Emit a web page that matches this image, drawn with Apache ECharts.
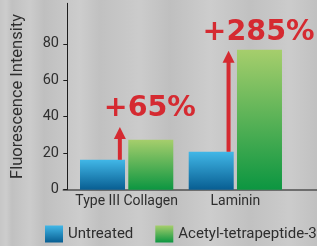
<!DOCTYPE html>
<html>
<head>
<meta charset="utf-8">
<script src="https://cdn.jsdelivr.net/npm/echarts@6/dist/echarts.min.js"></script>
<style>
  html, body { margin: 0; padding: 0; }
  body {
    width: 317px; height: 246px; overflow: hidden;
    background:
      linear-gradient(90deg,
        rgba(255,255,255,0) 0px, rgba(255,255,255,0.10) 6px, rgba(0,0,0,0.03) 12px,
        rgba(255,255,255,0.08) 30px, rgba(0,0,0,0.04) 44px, rgba(255,255,255,0.10) 80px,
        rgba(0,0,0,0.03) 100px, rgba(255,255,255,0.08) 140px, rgba(0,0,0,0.04) 170px,
        rgba(255,255,255,0.10) 210px, rgba(0,0,0,0.03) 250px, rgba(255,255,255,0.08) 290px,
        rgba(0,0,0,0.03) 317px),
      #c7c7c7;
  }
  #chart { width: 317px; height: 246px; }
</style>
</head>
<body>
<div id="chart"></div>
<script>
const categories = ['Type III Collagen', 'Laminin'];
const seriesNames = ['Untreated', 'Acetyl-tetrapeptide-3'];
const untreated = [16.4, 20.8];
const treated = [27.4, 76.7];
const arrowTips = [34.4, 76.2];
const increaseLabels = ['+65%', '+285%'];
const yTicks = [0, 20, 40, 60, 80];

const chart = echarts.init(document.getElementById('chart'), null, { renderer: 'canvas' });

const textColor = '#2e2e2e';
const red = '#d52a31';
const blueGrad = new echarts.graphic.LinearGradient(0, 0, 0, 1, [
  { offset: 0, color: '#41b7e7' }, { offset: 1, color: '#085e92' }
]);
const greenGrad = new echarts.graphic.LinearGradient(0, 0, 0, 1, [
  { offset: 0, color: '#a6ce6c' }, { offset: 1, color: '#0c9641' }
]);

const arrowData = categories.map((c, i) => [i, untreated[i], arrowTips[i], increaseLabels[i]]);

chart.setOption({
  animation: false,
  backgroundColor: 'transparent',
  grid: [
    { left: 72.3, right: 27.3, top: 3.3, bottom: 56.3 },
    { left: 63.3, right: 0, top: 3.3, bottom: 56.3 }
  ],
  legend: {
    data: seriesNames,
    left: 45, top: 225.5,
    itemWidth: 18, itemHeight: 17, itemGap: 22,
    icon: 'rect',
    padding: 0,
    textStyle: { fontFamily: 'Roboto', fontSize: 15, color: textColor }
  },
  xAxis: [
    {
      type: 'category', gridIndex: 0, data: categories,
      axisLine: { show: false }, axisTick: { show: false },
      axisLabel: { interval: 0, hideOverlap: false, margin: 5, fontFamily: 'Roboto', fontSize: 14, color: textColor }
    },
    {
      type: 'value', gridIndex: 1, min: 0, max: 1,
      axisLine: { show: true, lineStyle: { color: '#505050', width: 1.6 } },
      axisTick: { show: false }, axisLabel: { show: false }, splitLine: { show: false }
    }
  ],
  yAxis: [
    {
      type: 'value', gridIndex: 0, min: 0, max: 102.2, interval: 20, offset: 4.6,
      name: 'Fluorescence Intensity', nameLocation: 'middle', nameRotate: 90, nameGap: 41,
      nameTextStyle: { fontFamily: 'Roboto', fontSize: 16.5, color: textColor },
      axisLine: { show: true, lineStyle: { color: '#1e1e1e', width: 1 } },
      axisTick: { show: true, length: 4.4, customValues: yTicks, lineStyle: { color: '#1e1e1e' } },
      axisLabel: { customValues: yTicks, margin: 8.7, fontFamily: 'Roboto', fontSize: 14.5, color: textColor },
      splitLine: { show: false }
    },
    {
      type: 'value', gridIndex: 1, min: 0, max: 1, show: false
    }
  ],
  series: [
    {
      name: seriesNames[0], type: 'bar', xAxisIndex: 0, yAxisIndex: 0,
      data: untreated, barWidth: 45, barGap: '7.3%',
      itemStyle: { color: blueGrad }, z: 3
    },
    {
      name: seriesNames[1], type: 'bar', xAxisIndex: 0, yAxisIndex: 0,
      data: treated, barWidth: 45, barGap: '7.3%',
      itemStyle: { color: greenGrad }, z: 3
    },
    {
      type: 'custom', xAxisIndex: 0, yAxisIndex: 0, z: 5, silent: true, clip: false,
      encode: { x: 0, y: [1, 2] },
      data: arrowData,
      renderItem: function (params, api) {
        const cat = api.value(0);
        const pb = api.coord([cat, api.value(1)]);
        const pt = api.coord([cat, api.value(2)]);
        const label = increaseLabels[params.dataIndex];
        const x = pb[0] - 6.8;
        const headH = 12, headW = 12, shaftW = 4;
        return {
          type: 'group',
          children: [
            { type: 'rect', shape: { x: x - shaftW / 2, y: pt[1] + headH - 1, width: shaftW, height: pb[1] - pt[1] - headH + 1 },
              style: { fill: red } },
            { type: 'polygon', shape: { points: [[x - headW / 2, pt[1] + headH], [x + headW / 2, pt[1] + headH], [x, pt[1]]] },
              style: { fill: red } },
            { type: 'text', x: x + 30, y: pt[1] - 18,
              style: { text: label, fill: red, font: 'bold 28.5px "DejaVu Sans"', textAlign: 'center', textVerticalAlign: 'middle' } }
          ]
        };
      }
    }
  ]
});
</script>
</body>
</html>
